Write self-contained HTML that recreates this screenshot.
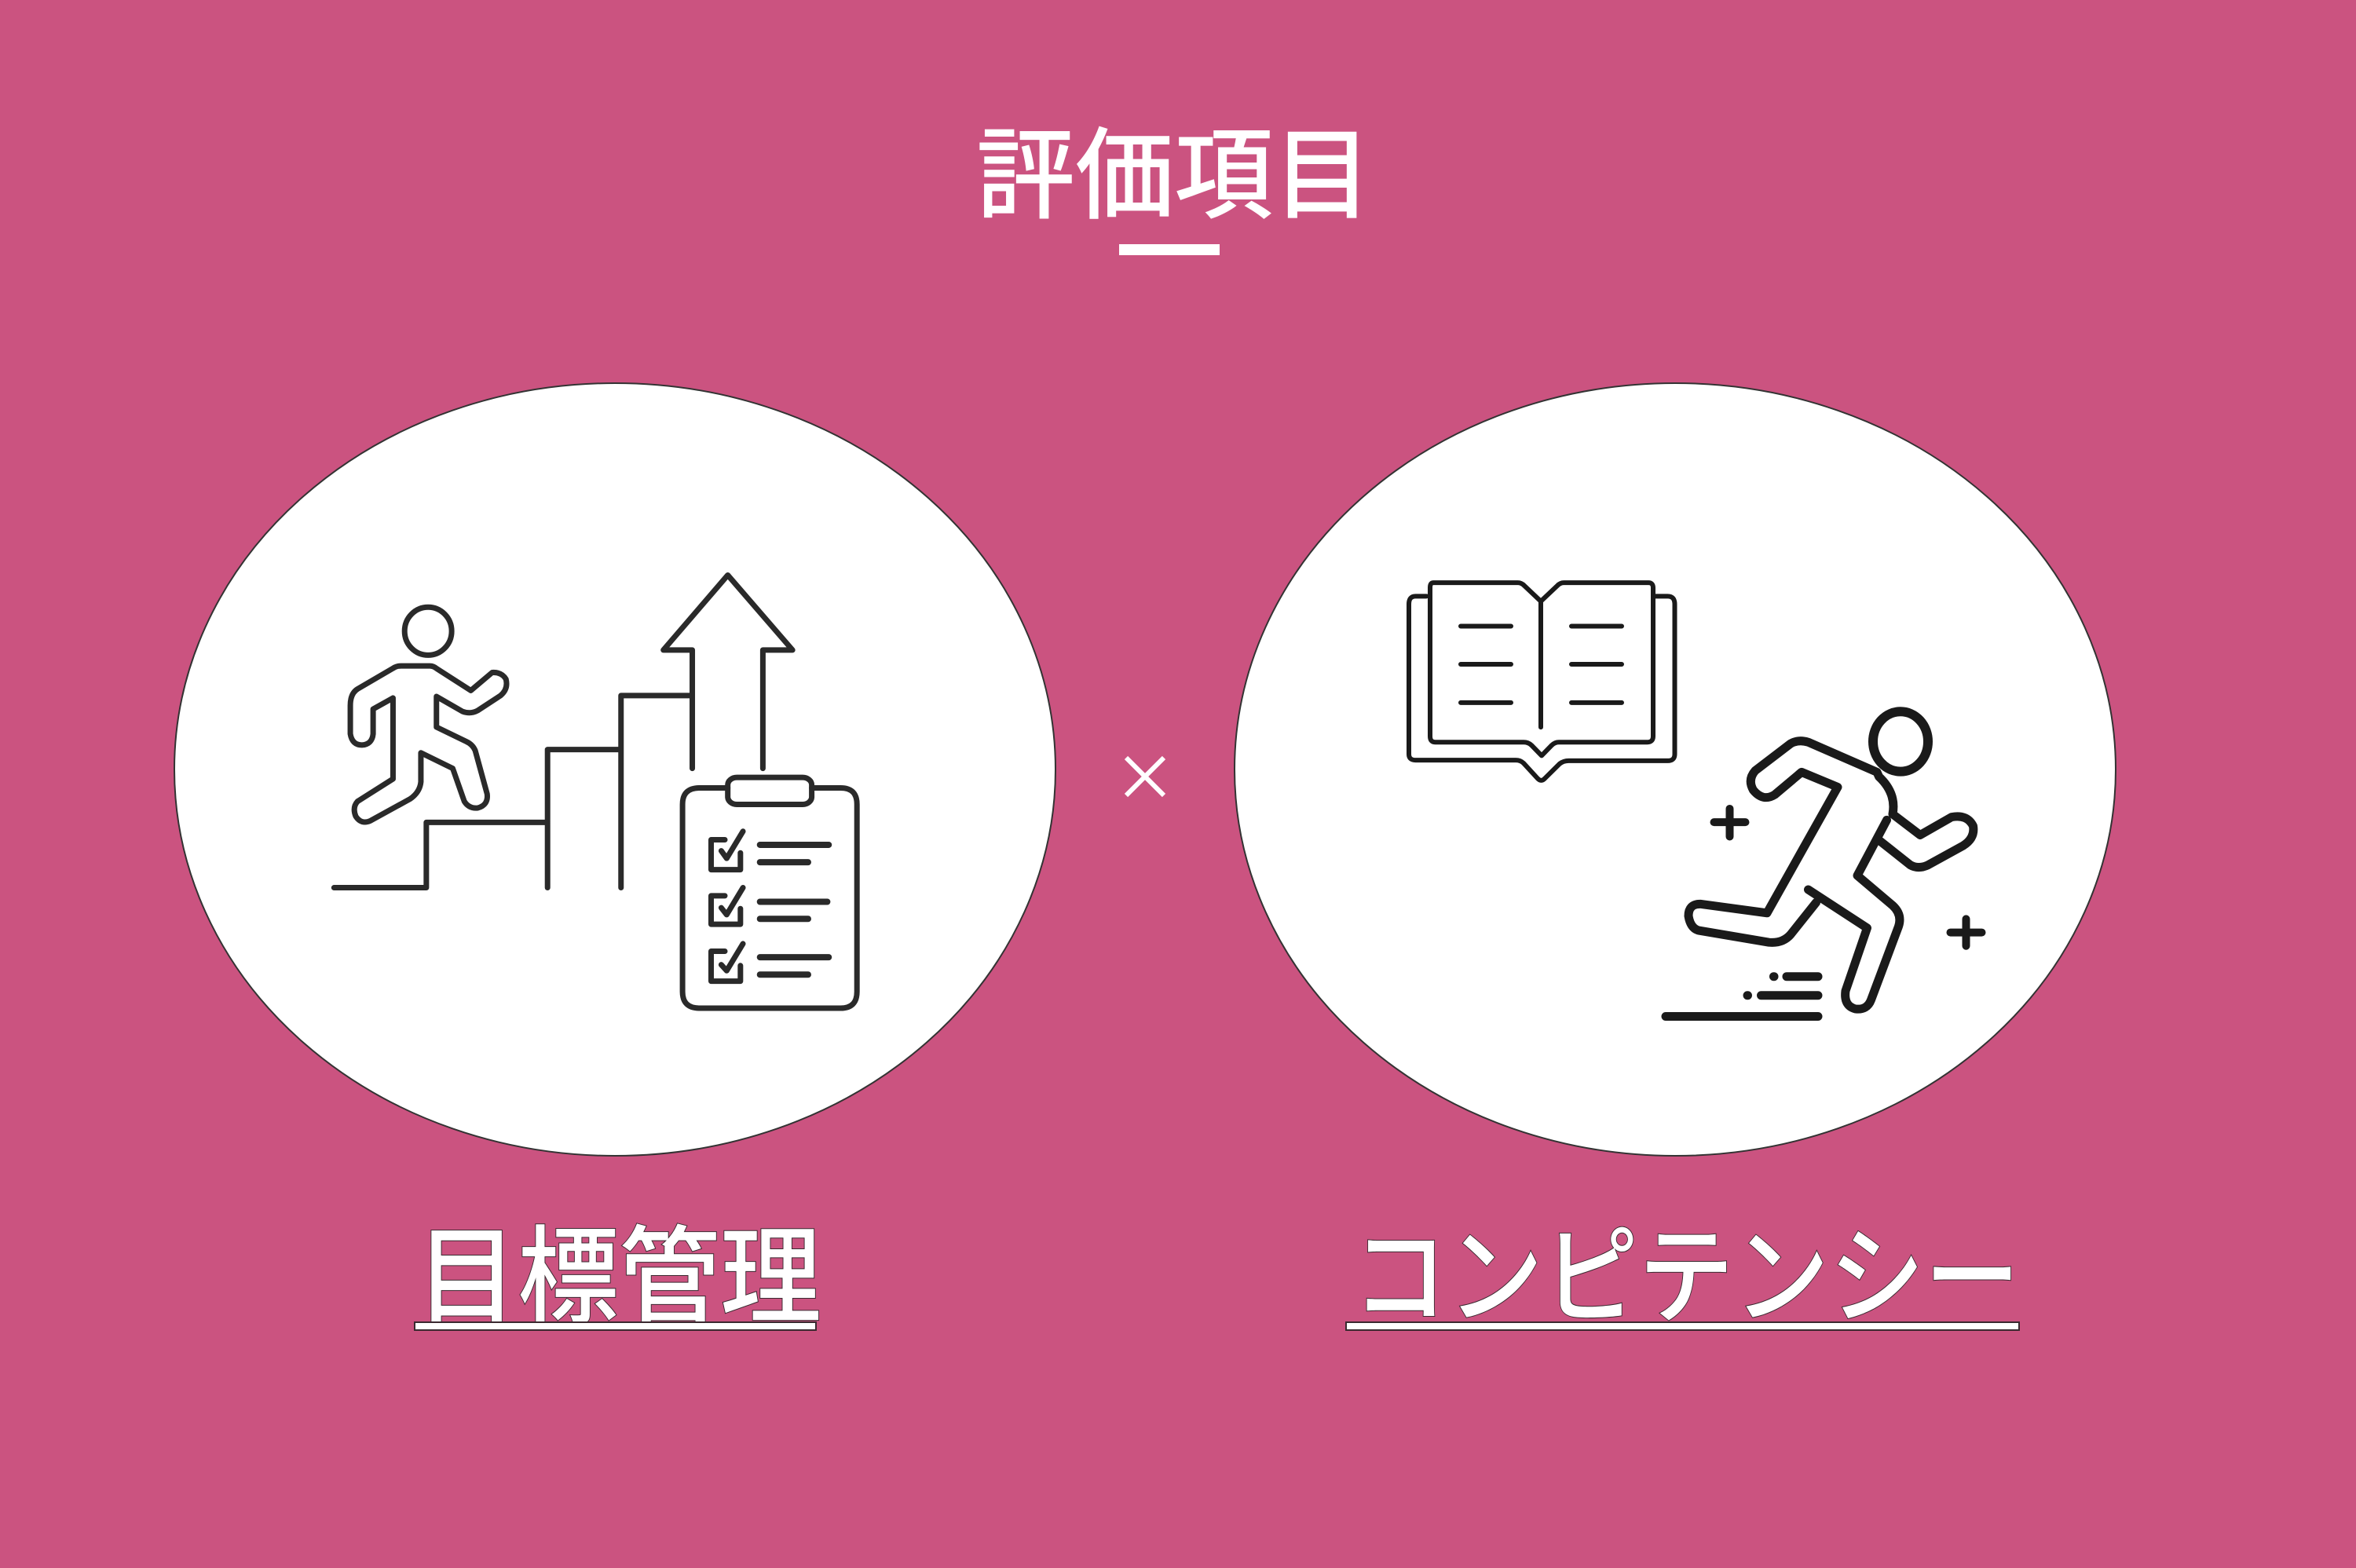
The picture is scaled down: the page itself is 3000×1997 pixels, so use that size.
<!DOCTYPE html>
<html><head><meta charset="utf-8"><style>
html,body{margin:0;padding:0;background:#CB5380;}
svg{display:block}
</style></head><body>
<svg width="3000" height="1997" viewBox="0 0 3000 1997" xmlns="http://www.w3.org/2000/svg">
<rect width="3000" height="1997" fill="#CB5380"/>
<text x="1243" y="268" font-family="Liberation Sans, Noto Sans CJK JP, sans-serif" font-weight="500" font-size="127" fill="#fff" textLength="504" lengthAdjust="spacingAndGlyphs">評価項目</text>
<rect x="1425" y="311" width="128" height="14" fill="#fff"/>
<ellipse cx="783" cy="980" rx="561" ry="492" fill="#fff" stroke="#333" stroke-width="2"/>
<ellipse cx="2133" cy="980" rx="561" ry="492" fill="#fff" stroke="#333" stroke-width="2"/>
<g stroke="#fff" stroke-width="6"><line x1="1434" y1="965" x2="1482" y2="1013"/><line x1="1482" y1="965" x2="1434" y2="1013"/></g>

<g transform="translate(400,700) scale(0.4608,0.3817)" fill="none" stroke="#2a2a2a" stroke-linecap="round" stroke-linejoin="round">
<ellipse cx="315" cy="272" rx="65" ry="80" vector-effect="non-scaling-stroke" stroke-width="7"/>
<path vector-effect="non-scaling-stroke" stroke-width="7" d="M433,470 L340,398 Q330,388 320,388 L240,388 Q228,388 218,396 L120,465 Q100,480 100,520 L100,615 Q105,652 132,652 Q160,650 163,615 L163,532 L218,495 L218,765 L120,840 Q105,860 115,890 Q130,918 155,905 L265,832 Q292,810 295,775 L295,678 L383,730 L415,840 Q428,865 452,862 Q482,852 478,815 L445,670 Q438,650 420,640 L338,592 L338,490 L410,540 Q432,550 452,537 L515,487 Q537,465 530,432 Q518,408 492,410 Z"/>
<path vector-effect="non-scaling-stroke" stroke-width="7" d="M55,1128 L310,1128 L310,910 L645,910 M645,1128 L645,667 L848,667 M848,1128 L848,487 L1045,487 M1045,730 L1045,335 L965,335 L1143,85 L1322,335 L1240,335 L1240,730"/>
<path vector-effect="non-scaling-stroke" stroke-width="7" d="M1143,795 L1065,795 Q1018,795 1018,850 L1018,1475 Q1018,1530 1065,1530 L1455,1530 Q1500,1530 1500,1475 L1500,850 Q1500,795 1455,795 L1375,795"/>
<rect vector-effect="non-scaling-stroke" stroke-width="7" x="1143" y="760" width="232" height="90" rx="25"/>
<path vector-effect="non-scaling-stroke" stroke-width="7" d="M1135,968 L1097,968 L1097,1068 L1178,1068 L1178,1012 M1125,1005 L1140,1030 L1185,940"/>
<path vector-effect="non-scaling-stroke" stroke-width="7" d="M1135,1155 L1097,1155 L1097,1250 L1178,1250 L1178,1198 M1125,1195 L1140,1218 L1185,1128"/>
<path vector-effect="non-scaling-stroke" stroke-width="7" d="M1135,1340 L1097,1340 L1097,1440 L1178,1440 L1178,1388 M1125,1385 L1140,1405 L1185,1315"/>
<path vector-effect="non-scaling-stroke" stroke-width="8" d="M1232,985 H1422 M1232,1043 H1365 M1232,1175 H1418 M1232,1232 H1365 M1232,1360 H1422 M1232,1418 H1365"/>
</g>

<g transform="translate(1760,720) scale(0.5,0.3817)" fill="none" stroke="#1a1a1a" stroke-linecap="round" stroke-linejoin="round">
<path vector-effect="non-scaling-stroke" stroke-width="6" d="M113,103 H85 Q68,103 68,130 V630 Q68,650 85,650 H340 Q352,650 360,660 L395,710 Q405,725 415,710 L452,662 Q462,652 475,652 H727 Q745,652 745,630 V130 Q745,103 727,103 H690"/>
<path vector-effect="non-scaling-stroke" stroke-width="6" d="M130,58 H345 Q355,58 362,68 L404,120 L446,68 Q453,58 463,58 H678 Q690,58 690,75 V570 Q690,590 675,590 H450 Q440,590 432,600 L406,635 L380,600 Q372,590 360,590 H135 Q122,590 122,570 V75 Q122,58 130,58 Z M404,120 V540"/>
<path vector-effect="non-scaling-stroke" stroke-width="6" d="M200,203 H328 M482,203 H610 M200,330 H328 M482,330 H610 M200,458 H328 M482,458 H610"/>
<ellipse vector-effect="non-scaling-stroke" stroke-width="12" cx="1320" cy="588" rx="70" ry="100"/>
<path vector-effect="non-scaling-stroke" stroke-width="11" d="M1260,690 L1085,590 Q1060,580 1040,595 L950,685 Q930,715 945,750 Q970,790 1000,765 L1068,690 L1160,740 L980,1160 L810,1130 Q780,1130 780,1170 Q785,1210 805,1218 L985,1258 Q1020,1262 1040,1232 L1105,1125 M1085,1082 L1235,1210 L1180,1420 Q1175,1470 1205,1480 Q1235,1485 1245,1450 L1315,1205 Q1325,1165 1300,1135 L1210,1035 L1285,850 M1268,920 L1345,1000 Q1365,1015 1390,1000 L1480,935 Q1510,910 1505,870 Q1490,830 1450,840 L1370,900 L1300,830 Q1310,760 1265,705 L1260,690"/>
<path vector-effect="non-scaling-stroke" stroke-width="10" d="M885,812 V905 M845,857 H925 M1487,1180 V1270 M1447,1225 H1527"/>
<path vector-effect="non-scaling-stroke" stroke-width="11" d="M997,1372 L998,1372 M1030,1372 H1110 M930,1435 L931,1435 M965,1435 H1110 M722,1505 H1110"/>
</g>

<text x="530" y="1674" font-family="Liberation Sans, Noto Sans CJK JP, sans-serif" font-weight="500" font-size="136" fill="#fff" stroke="#3a2a30" stroke-width="2" paint-order="stroke" textLength="516" lengthAdjust="spacingAndGlyphs">目標管理</text>
<rect x="528" y="1684" width="511" height="10" fill="#fff" stroke="#3a2a30" stroke-width="2"/>
<text x="1722" y="1674" font-family="Liberation Sans, Noto Sans CJK JP, sans-serif" font-weight="500" font-size="136" fill="#fff" stroke="#3a2a30" stroke-width="2" paint-order="stroke" textLength="850" lengthAdjust="spacingAndGlyphs">コンピテンシー</text>
<rect x="1714" y="1684" width="857" height="10" fill="#fff" stroke="#3a2a30" stroke-width="2"/>
</svg>
</body></html>
